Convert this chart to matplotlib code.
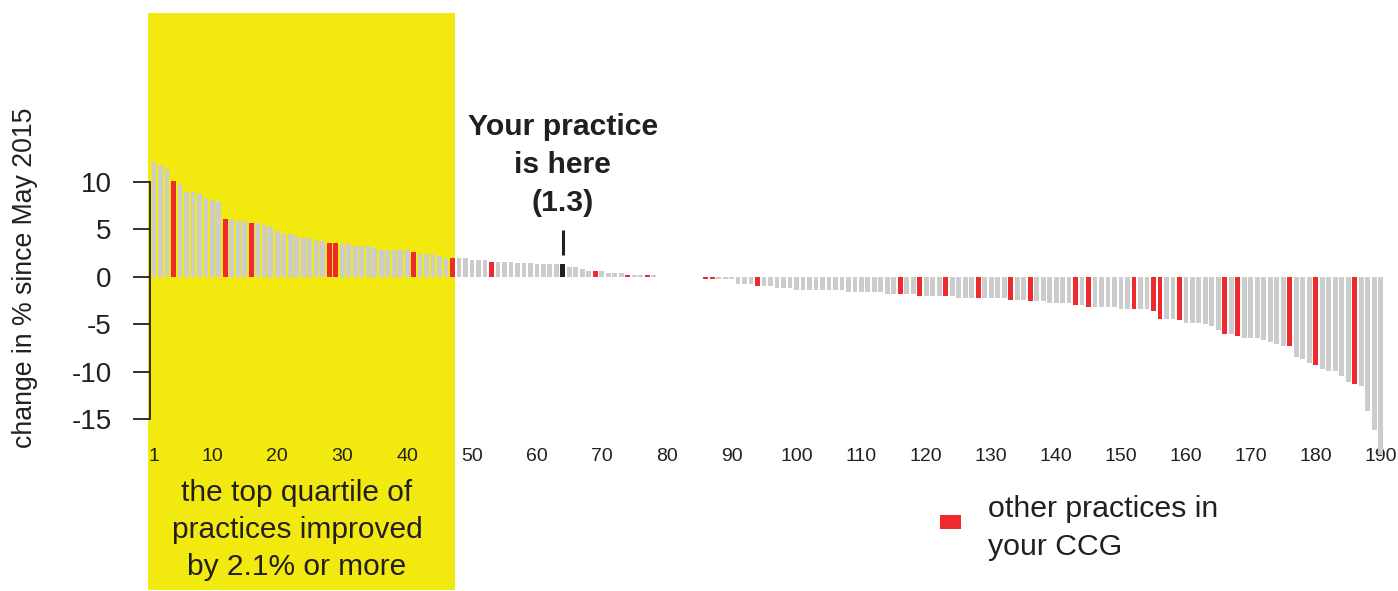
import matplotlib.pyplot as plt
from matplotlib.patches import Rectangle

plt.rcParams['font.family'] = ['Liberation Sans', 'DejaVu Sans']
plt.rcParams['axes.unicode_minus'] = False

# change in % since May 2015, practices ranked 1..190
change = [
    12.1, 11.75, 11.3, 10.1, 9.75, 8.95, 8.95, 8.75, 8.3, 8.1,
    7.9, 6.05, 6.05, 5.85, 5.85, 5.65, 5.65, 5.45, 5.25, 4.85,
    4.45, 4.45, 4.25, 4.05, 4.05, 3.8, 3.8, 3.6, 3.6, 3.4,
    3.4, 3.2, 3.2, 3.2, 3.0, 2.8, 2.8, 2.8, 2.8, 2.8,
    2.55, 2.4, 2.4, 2.4, 2.2, 2.0, 2.0, 2.0, 2.0, 1.8,
    1.8, 1.8, 1.6, 1.6, 1.6, 1.6, 1.45, 1.45, 1.45, 1.3,
    1.3, 1.3, 1.3, 1.3, 1.0, 1.0, 0.8, 0.6, 0.6, 0.6,
    0.4, 0.4, 0.4, 0.2, 0.2, 0.2, 0.2, 0.2, 0.0, 0.0,
    0.0, 0.0, 0.0, 0.0, 0.0, -0.25, -0.25, -0.2, -0.2, -0.25,
    -0.75, -0.75, -0.75, -0.95, -0.95, -0.95, -1.15, -1.15, -1.15, -1.4,
    -1.4, -1.4, -1.4, -1.4, -1.4, -1.4, -1.4, -1.6, -1.6, -1.6,
    -1.6, -1.6, -1.6, -1.8, -1.8, -1.8, -1.8, -1.8, -2.0, -2.0,
    -2.0, -2.0, -2.0, -2.0, -2.2, -2.2, -2.2, -2.2, -2.2, -2.2,
    -2.2, -2.2, -2.4, -2.4, -2.4, -2.6, -2.6, -2.6, -2.8, -2.8,
    -2.8, -2.8, -3.0, -3.0, -3.2, -3.2, -3.2, -3.2, -3.2, -3.4,
    -3.4, -3.4, -3.4, -3.4, -3.6, -4.4, -4.4, -4.4, -4.6, -4.85,
    -4.85, -4.85, -5.0, -5.2, -5.65, -6.05, -6.05, -6.25, -6.45, -6.45,
    -6.45, -6.65, -6.9, -7.05, -7.25, -7.25, -8.5, -8.7, -9.1, -9.3,
    -9.7, -9.9, -9.9, -10.5, -11.1, -11.3, -11.5, -14.1, -16.1, -18.8,
]
ccg_ranks = [4, 12, 16, 28, 29, 41, 47, 53, 69, 74, 77, 86, 87, 94, 116, 119,
             123, 128, 133, 136, 143, 145, 152, 155, 156, 159, 166, 168, 176,
             180, 186]
your_rank = 64
your_value = 1.3
quartile_cut = 47
xtick_labels = [1] + list(range(10, 191, 10))
ytick_labels = [10, 5, 0, -5, -10, -15]

GREY = '#cccccc'
RED = '#ee2a2f'
DARK = '#231f20'
YELLOW = '#f2e90e'

W, H = 1398, 591
fig = plt.figure(figsize=(W / 100, H / 100), dpi=100)

# y: 0 sits at pixel 276.7, 9.5 px per unit
y0, ppu = 276.7, 9.5
def ydata(py):
    return (y0 - py) / ppu

ax = fig.add_axes([147.5 / W, 1 / H, 1243.5 / W, 577 / H])
ax.set_xlim(0, 191.6)
ax.set_ylim(ydata(590), ydata(13))
ax.patch.set_alpha(0)

ax.axvspan(0.08, quartile_cut + 0.4, color=YELLOW, lw=0, zorder=0)

ranks = list(range(1, len(change) + 1))
colors = []
for r in ranks:
    if r == your_rank:
        colors.append(DARK)
    elif r in ccg_ranks:
        colors.append(RED)
    else:
        colors.append(GREY)
vals = [your_value if r == your_rank else v for r, v in zip(ranks, change)]
ax.bar(ranks, vals, width=0.74, color=colors, lw=0, zorder=2)

# axes styling
for s in ['top', 'right', 'bottom']:
    ax.spines[s].set_visible(False)
ax.spines['left'].set_position(('data', 0.38))
ax.spines['left'].set_bounds(-15, 10)
ax.spines['left'].set_color(DARK)
ax.spines['left'].set_linewidth(1.3)
ax.set_yticks(ytick_labels)
ax.set_yticklabels([str(t) for t in ytick_labels])
ax.tick_params(axis='y', length=12.5, width=1.3, color=DARK, pad=15,
               labelsize=20, labelcolor=DARK)
ax.spines['bottom'].set_position(('data', ydata(448)))
ax.set_xticks(xtick_labels)
ax.set_xticklabels([str(t) for t in xtick_labels])
ax.tick_params(axis='x', length=0, pad=0, labelsize=14, labelcolor=DARK)

fig.text(25 / W, 1 - 278 / H, 'change in % since May 2015', rotation=90,
         fontsize=19.2, color=DARK, ha='center', va='center')

# your practice marker
ax.vlines(your_rank, ydata(255), ydata(230), color=DARK, lw=2.2, zorder=3)
ax.text(your_rank, ydata(165), 'Your practice\nis here\n(%.1f)' % your_value,
        ha='center', va='center', fontsize=21.7, fontweight='bold', color=DARK,
        linespacing=1.45, multialignment='center')

fig.text(297 / W, 1 - 530 / H,
         'the top quartile of\npractices improved\nby 2.1% or more',
         ha='center', va='center', fontsize=21.5, color=DARK, linespacing=1.42)

# legend
fig.patches.append(Rectangle((940 / W, 1 - 529 / H), 21 / W, 14 / H,
                             transform=fig.transFigure, color=RED, lw=0))
fig.text(988 / W, 1 - 528 / H, 'other practices in\nyour CCG',
         ha='left', va='center', fontsize=21.8, color=DARK, linespacing=1.42)

fig.savefig('out.png', dpi=100)
